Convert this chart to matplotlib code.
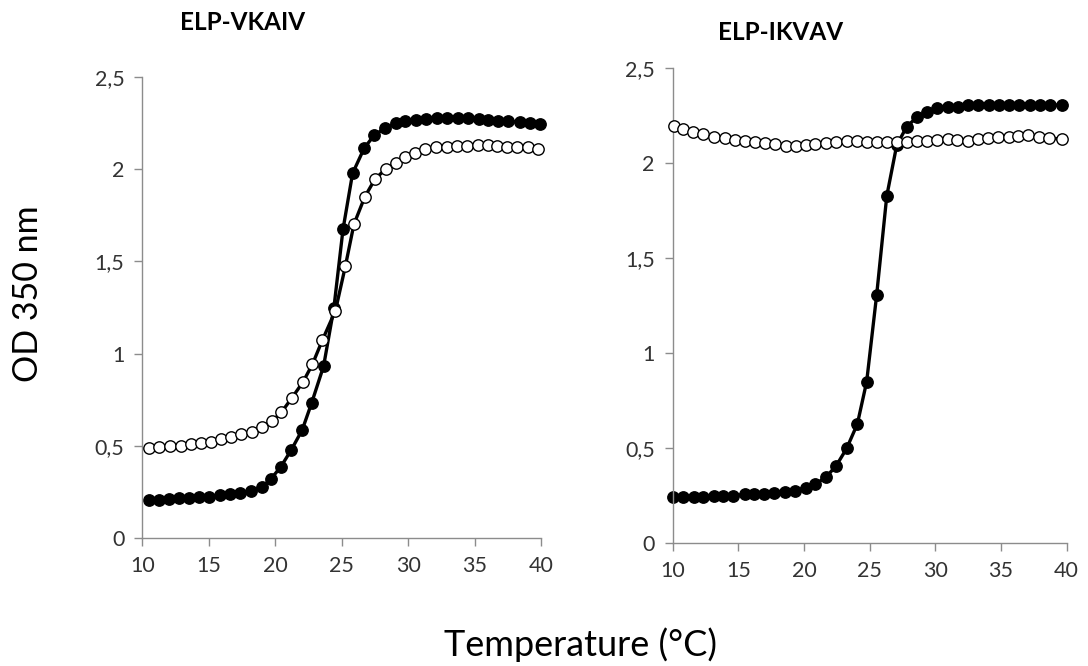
import matplotlib
matplotlib.use("Agg")
import matplotlib.pyplot as plt

plt.rcParams['font.family'] = ['Lato', 'DejaVu Sans']

# ELP-VKAIV panel
vk_temp_filled = [10.53, 11.26, 12.0, 12.76, 13.49, 14.24, 14.99, 15.84, 16.59, 17.34,
                  18.2, 18.98, 19.65, 20.4, 21.2, 22.03, 22.73, 23.64, 24.41, 25.1,
                  25.82, 26.69, 27.44, 28.25, 29.05, 29.8, 30.58, 31.38, 32.14, 32.89,
                  33.76, 34.51, 35.32, 36.0, 36.77, 37.52, 38.4, 39.15, 39.9]
vk_od_filled = [0.207, 0.207, 0.211, 0.217, 0.217, 0.222, 0.226, 0.235, 0.238, 0.244,
                0.258, 0.276, 0.32, 0.385, 0.478, 0.587, 0.731, 0.933, 1.246, 1.674,
                1.977, 2.113, 2.183, 2.221, 2.248, 2.26, 2.266, 2.271, 2.275, 2.275,
                2.275, 2.275, 2.271, 2.266, 2.26, 2.26, 2.255, 2.252, 2.245]
vk_temp_open = [10.53, 11.28, 12.08, 12.88, 13.63, 14.38, 15.16, 15.91, 16.66, 17.41,
                18.29, 19.04, 19.79, 20.47, 21.27, 22.1, 22.8, 23.55, 24.53, 25.28,
                25.92, 26.74, 27.5, 28.3, 29.05, 29.8, 30.55, 31.3, 32.06, 32.89,
                33.68, 34.44, 35.26, 36.0, 36.72, 37.47, 38.2, 38.98, 39.77]
vk_od_open = [0.488, 0.493, 0.5, 0.502, 0.509, 0.515, 0.523, 0.536, 0.55, 0.565,
              0.578, 0.605, 0.637, 0.683, 0.762, 0.848, 0.943, 1.074, 1.233, 1.475,
              1.701, 1.85, 1.945, 2.0, 2.035, 2.067, 2.085, 2.107, 2.118, 2.121,
              2.125, 2.127, 2.13, 2.13, 2.125, 2.121, 2.121, 2.118, 2.11]

# ELP-IKVAV panel
ik_temp_filled = [10.0, 10.76, 11.62, 12.28, 13.14, 13.85, 14.61, 15.5, 16.21, 16.97,
                  17.74, 18.55, 19.31, 20.13, 20.83, 21.65, 22.44, 23.25, 24.06, 24.77,
                  25.53, 26.3, 27.06, 27.82, 28.58, 29.39, 30.15, 30.99, 31.75, 32.51,
                  33.27, 34.09, 34.85, 35.61, 36.4, 37.2, 37.98, 38.74, 39.63]
ik_od_filled = [0.242, 0.242, 0.242, 0.242, 0.249, 0.249, 0.249, 0.258, 0.258, 0.258,
                0.263, 0.272, 0.277, 0.293, 0.31, 0.347, 0.407, 0.5, 0.628, 0.851,
                1.307, 1.828, 2.096, 2.193, 2.242, 2.272, 2.289, 2.298, 2.298, 2.307,
                2.307, 2.307, 2.307, 2.307, 2.307, 2.307, 2.307, 2.307, 2.307]
ik_temp_open = [10.1, 10.81, 11.57, 12.33, 13.15, 13.98, 14.74, 15.5, 16.26, 17.03,
                17.79, 18.6, 19.36, 20.13, 20.83, 21.65, 22.44, 23.25, 24.01, 24.77,
                25.53, 26.34, 27.06, 27.82, 28.58, 29.34, 30.15, 30.94, 31.67, 32.51,
                33.27, 34.03, 34.79, 35.61, 36.32, 37.08, 37.9, 38.66, 39.63]
ik_od_open = [2.196, 2.18, 2.166, 2.154, 2.14, 2.131, 2.123, 2.117, 2.11, 2.105,
              2.102, 2.093, 2.093, 2.096, 2.102, 2.109, 2.114, 2.117, 2.117, 2.114,
              2.11, 2.114, 2.114, 2.114, 2.117, 2.119, 2.123, 2.128, 2.123, 2.117,
              2.126, 2.131, 2.14, 2.14, 2.144, 2.149, 2.14, 2.135, 2.126]

x_ticks = [10, 15, 20, 25, 30, 35, 40]
y_ticks = [0, 0.5, 1, 1.5, 2, 2.5]
y_tick_labels = ['0', '0,5', '1', '1,5', '2', '2,5']

fig = plt.figure(figsize=(10.88, 6.66), dpi=100)
ax1 = fig.add_axes([0.1308, 0.1917, 0.3665, 0.693])
ax2 = fig.add_axes([0.6183, 0.1842, 0.3621, 0.7132])

panels = [
    (ax1, vk_temp_filled, vk_od_filled, vk_temp_open, vk_od_open),
    (ax2, ik_temp_filled, ik_od_filled, ik_temp_open, ik_od_open),
]

for ax, tf, odf, to, odo in panels:
    ax.plot(tf, odf, color='black', lw=2.4, marker='o', ms=8.2,
            mfc='black', mec='black', zorder=2, clip_on=False)
    ax.plot(to, odo, color='black', lw=2.4, marker='o', ms=8.2,
            mfc='white', mec='black', mew=1.0, zorder=3, clip_on=False)
    ax.set_xlim(10, 40)
    ax.set_ylim(0, 2.5)
    ax.set_xticks(x_ticks)
    ax.set_yticks(y_ticks)
    ax.set_yticklabels(y_tick_labels)
    for s in ['top', 'right']:
        ax.spines[s].set_visible(False)
    for s in ['left', 'bottom']:
        ax.spines[s].set_color('#8c8c8c')
        ax.spines[s].set_linewidth(1.0)
    ax.tick_params(direction='out', length=6, width=1.0, color='#8c8c8c',
                   labelsize=15.5, labelcolor='#333333', pad=7)

fig.text(243 / 1088, 1 - 22 / 666, 'ELP-VKAIV', ha='center', va='center',
         fontsize=17.5, fontweight='bold')
fig.text(781 / 1088, 1 - 32 / 666, 'ELP-IKVAV', ha='center', va='center',
         fontsize=17.5, fontweight='bold')
fig.text(28 / 1088, 1 - 294 / 666, 'OD 350 nm', ha='center', va='center',
         rotation=90, fontsize=24.5)
fig.text(581 / 1088, 1 - 645 / 666, 'Temperature (°C)', ha='center', va='center',
         fontsize=26)

fig.savefig('out.png', dpi=100, facecolor='white')
